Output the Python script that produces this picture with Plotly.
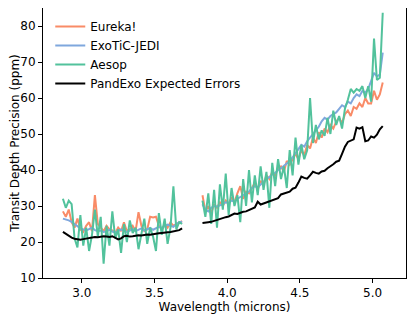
"""Precisao de profundidade de transito: Eureka!, ExoTiC-JEDI, Aesop e PandExo."""

import plotly.graph_objects as go

# comprimentos de onda (microns), dois segmentos separados pelo gap
WL_ESQ = [
    2.87, 2.89, 2.91, 2.93, 2.95, 2.97, 2.99, 3.01, 3.03, 3.05, 3.07, 3.09,
    3.11, 3.13, 3.15, 3.17, 3.19, 3.21, 3.23, 3.25, 3.27, 3.29, 3.31, 3.33,
    3.35, 3.37, 3.39, 3.41, 3.43, 3.45, 3.47, 3.49, 3.51, 3.53, 3.55, 3.57,
    3.59, 3.61, 3.63, 3.65, 3.67, 3.69,
]
WL_DIR = [
    3.83, 3.85, 3.87, 3.89, 3.91, 3.93, 3.95, 3.97, 3.99, 4.01, 4.03, 4.05,
    4.07, 4.09, 4.11, 4.13, 4.15, 4.17, 4.19, 4.21, 4.23, 4.25, 4.27, 4.29,
    4.31, 4.33, 4.35, 4.37, 4.39, 4.41, 4.43, 4.45, 4.47, 4.49, 4.51, 4.53,
    4.55, 4.57, 4.59, 4.61, 4.63, 4.65, 4.67, 4.69, 4.71, 4.73, 4.75, 4.77,
    4.79, 4.81, 4.83, 4.85, 4.87, 4.89, 4.91, 4.93, 4.95, 4.97, 4.99, 5.01,
    5.03, 5.05, 5.07,
]

EUREKA_ESQ = [
    28.5, 27.0, 29.0, 25.5, 24.0, 26.5, 23.5, 22.8, 24.5, 25.5, 23.0, 33.0,
    25.0, 24.0, 23.0, 24.5, 23.5, 23.2, 22.5, 24.0, 23.0, 25.5, 23.0, 23.5,
    24.5, 23.0, 28.3, 24.5, 23.0, 23.5, 27.0, 26.8, 27.0, 24.5, 23.5, 25.0,
    24.0, 25.5, 24.5, 25.0, 25.5, 25.8,
]
EUREKA_DIR = [
    33.0, 28.5, 30.0, 28.0, 30.5, 29.5, 31.0, 30.0, 31.5, 30.5, 32.5, 31.0,
    33.5, 35.5, 32.0, 34.0, 33.5, 35.0, 36.5, 34.5, 37.0, 36.0, 38.5, 37.5,
    39.5, 38.5, 40.5, 41.0, 39.5, 42.5, 41.5, 43.0, 44.5, 43.0, 45.5, 44.0,
    47.0, 46.0, 49.0, 47.5, 50.5, 49.0, 51.5, 50.5, 52.5, 51.5, 53.5, 54.5,
    53.0, 55.5, 56.5, 55.0, 57.5, 57.0, 58.5, 57.5, 60.0, 58.5, 58.5, 62.0,
    59.5, 61.0, 64.3,
]

JEDI_ESQ = [
    26.5, 26.3, 26.0, 25.6, 25.0, 24.3, 23.8, 23.5, 23.2, 23.6, 24.0, 23.3,
    23.0, 23.2, 22.8, 23.0, 23.4, 22.9, 22.6, 23.0, 23.5, 23.1, 22.8, 23.2,
    23.6, 23.0, 23.4, 23.8, 23.2, 23.5, 23.9, 23.4, 23.8, 24.2, 23.9, 24.4,
    24.8, 24.5, 24.2, 25.0, 25.5, 25.6,
]
JEDI_DIR = [
    30.5, 29.0, 28.5, 29.5, 30.0, 29.8, 30.2, 30.5, 31.0, 30.8, 31.5, 31.2,
    32.0, 32.5, 33.0, 33.4, 34.0, 35.0, 35.5, 35.2, 36.0, 36.8, 37.5, 38.0,
    38.8, 39.2, 40.0, 40.5, 41.2, 41.8, 42.5, 43.5, 44.5, 45.8, 47.0, 46.5,
    48.0, 49.0, 50.0, 51.0, 52.0, 53.5, 54.5, 54.0, 55.0, 55.5, 56.0, 57.0,
    58.0, 57.5, 59.0, 58.5, 60.0, 61.0, 60.5, 62.0, 61.5, 62.5, 64.5, 67.0,
    66.0, 66.5, 72.6,
]

AESOP_ESQ = [
    32.0, 29.5, 31.5, 30.5, 21.0, 18.5, 27.5, 19.0, 24.0, 17.5, 22.0, 29.0,
    21.5, 27.0, 14.0, 24.5, 19.0, 28.5, 21.0, 23.5, 17.0, 25.0, 20.0, 26.0,
    22.5, 24.0, 18.0, 22.5, 26.5, 19.5, 24.0, 21.5, 17.5, 28.0, 22.0, 26.5,
    19.5, 24.0, 35.5, 23.5, 25.5, 25.0,
]
AESOP_DIR = [
    31.5, 27.0, 33.5, 25.0, 34.5, 24.0, 36.0, 29.0, 39.0, 27.5, 35.0, 30.0,
    33.0, 25.5, 37.5, 30.0, 40.0, 31.0, 38.5, 33.0, 41.0, 34.5, 39.5, 29.5,
    42.0, 35.5, 43.0, 37.5, 41.0, 35.0, 45.5, 38.5, 49.0, 41.5, 47.0, 43.0,
    45.5, 60.0, 47.5, 52.5, 48.5, 51.0, 49.5, 54.5, 50.0, 56.5, 52.5, 55.0,
    51.5, 57.0, 59.5, 62.5, 61.5, 62.5, 62.0, 63.3, 60.0, 63.3, 59.0, 76.5,
    65.0, 65.6, 83.7,
]

PANDEXO_ESQ = [
    22.8, 22.2, 21.6, 21.2, 20.9, 20.7, 20.6, 20.8, 21.0, 21.0, 21.2, 21.4,
    21.3, 21.5, 21.6, 21.5, 21.4, 21.6, 21.2, 20.7, 21.0, 21.6, 21.7, 21.5,
    21.6, 21.8, 21.9, 21.8, 22.0, 22.1, 22.0, 22.2, 22.3, 22.4, 22.5, 22.5,
    22.7, 22.8, 22.9, 23.0, 23.3, 23.8,
]
PANDEXO_DIR = [
    25.3, 25.3, 25.5, 25.6, 25.9, 26.2, 26.4, 26.6, 26.9, 27.1, 27.4, 27.9,
    27.8, 28.2, 28.4, 28.5, 28.9, 29.3, 29.6, 31.2, 30.4, 30.7, 31.0, 31.3,
    31.8, 32.0, 32.2, 33.2, 33.5, 33.6, 34.0, 34.8, 35.1, 36.5, 38.2, 37.8,
    37.6, 38.5, 39.5, 39.2, 39.0, 39.6, 39.8, 40.5, 41.0, 41.6, 42.3, 42.6,
    44.5, 46.5, 47.8, 48.2, 48.5, 51.8, 51.5, 51.9, 48.0, 48.2, 49.3, 49.0,
    49.8, 51.3, 52.2,
]

SERIES = [
    ("Eureka!", EUREKA_ESQ, EUREKA_DIR, "#f98b67"),
    ("ExoTiC-JEDI", JEDI_ESQ, JEDI_DIR, "#7fa7dd"),
    ("Aesop", AESOP_ESQ, AESOP_DIR, "#52c29c"),
    ("PandExo Expected Errors", PANDEXO_ESQ, PANDEXO_DIR, "black"),
]

FONTE = "DejaVu Sans, sans-serif"

fig = go.Figure()
for nome, esq, dir_, cor in SERIES:
    # None separa os dois segmentos do espectro
    fig.add_trace(
        go.Scatter(
            x=WL_ESQ + [None] + WL_DIR,
            y=esq + [None] + dir_,
            mode="lines",
            name=nome,
            line={"color": cor, "width": 2},
            connectgaps=False,
        )
    )

eixo = dict(
    showline=True,
    linecolor="black",
    linewidth=1,
    mirror=True,
    ticks="outside",
    ticklen=4,
    tickcolor="black",
    showgrid=False,
    zeroline=False,
    tickfont={"size": 12, "color": "black"},
    title_font={"size": 12, "color": "black"},
)

fig.update_xaxes(
    **eixo,
    range=[2.733, 5.23],
    tickvals=[3.0, 3.5, 4.0, 4.5, 5.0],
    tickformat=".1f",
    title_text="Wavelength (microns)",
    title_standoff=2,
)
fig.update_yaxes(
    **eixo,
    range=[10, 85],
    tickvals=[10, 20, 30, 40, 50, 60, 70, 80],
    title_text="Transit Depth Precision (ppm)",
    title_standoff=4,
)

# a pagina tem margem de 8 px no body: figura menor e margens compensadas
fig.update_layout(
    width=408,
    height=312,
    margin={"l": 35, "r": 10, "t": 0, "b": 42, "autoexpand": False},
    paper_bgcolor="white",
    plot_bgcolor="white",
    font={"family": FONTE, "size": 12, "color": "black"},
    legend={
        "x": 0.02,
        "y": 0.985,
        "xanchor": "left",
        "yanchor": "top",
        "bgcolor": "rgba(255,255,255,0)",
        "font": {"size": 12},
        "tracegroupgap": 0,
    },
)

fig.write_html("out.html")
